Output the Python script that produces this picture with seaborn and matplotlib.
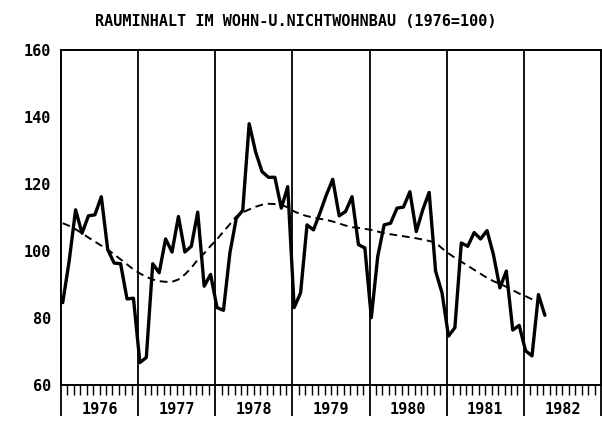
import numpy as np
import pandas as pd
import matplotlib
matplotlib.use('Agg')
import matplotlib.pyplot as plt
import seaborn as sns

# monthly index values (1976=100)
y1976 = [84.6, 97.0, 112.3, 105.3, 110.5, 110.8, 116.2, 100.4, 96.4, 96.2, 85.7, 85.9]
y1977 = [66.7, 68.2, 96.2, 93.5, 103.6, 99.7, 110.3, 99.7, 101.4, 111.6, 89.5, 93.0]
y1978 = [83.1, 82.3, 99.4, 109.8, 112.1, 138.0, 129.6, 123.7, 122.0, 122.0, 112.8, 119.2]
y1979 = [83.1, 87.5, 107.8, 106.3, 111.3, 116.7, 121.4, 110.5, 111.8, 116.2, 101.9, 100.9]
y1980 = [80.1, 98.4, 107.8, 108.3, 112.8, 113.1, 117.7, 105.8, 112.3, 117.5, 94.0, 87.5]
y1981 = [74.6, 77.1, 102.4, 101.4, 105.5, 103.6, 106.1, 98.9, 89.0, 94.0, 76.4, 77.8]
y1982 = [70.2, 68.7, 87.0, 80.8]

# smoothed trend (dashed), Jan 1976 - Mar 1982
trend = [108.3, 107.5, 106.5, 105.3, 104.0, 102.8, 101.6, 100.4, 99.0, 97.5, 96.0, 94.5,
         93.3, 92.3, 91.5, 91.0, 90.8, 90.8, 91.5, 93.0, 95.0, 97.4, 99.3, 101.5,
         103.5, 105.8, 108.0, 110.3, 111.5, 112.4, 113.2, 113.8, 114.1, 114.0, 113.8, 113.0,
         111.8, 111.0, 110.4, 110.0, 109.6, 109.3, 108.8, 108.2, 107.6, 107.1, 106.9, 106.6,
         106.3, 105.8, 105.3, 105.0, 104.7, 104.4, 104.1, 103.8, 103.4, 103.0, 102.5, 100.8,
         99.3, 98.0, 96.8, 95.6, 94.4, 93.2, 92.0, 91.0, 90.2, 89.3, 88.3, 87.3,
         86.5, 85.6, 84.9]

years = [1976, 1977, 1978, 1979, 1980, 1981, 1982]
title = 'RAUMINHALT IM WOHN-U.NICHTWOHNBAU (1976=100)'

werte = y1976 + y1977 + y1978 + y1979 + y1980 + y1981 + y1982
df = pd.DataFrame({'t': 1976 + (np.arange(len(werte)) + 0.27) / 12, 'wert': werte})
df_tr = pd.DataFrame({'t': 1976 + (np.arange(len(trend)) + 0.27) / 12, 'trend': trend})

sns.set_style("ticks")
plt.rcParams['font.family'] = ['DejaVu Sans Mono']
plt.rcParams['text.color'] = 'black'
plt.rcParams['xtick.color'] = 'black'
plt.rcParams['ytick.color'] = 'black'
plt.rcParams['xtick.labelcolor'] = 'black'
plt.rcParams['ytick.labelcolor'] = 'black'

fig = plt.figure(figsize=(6.02, 4.23), dpi=100)
ax = fig.add_axes([61 / 602, 1 - 385 / 423, 540 / 602, 335 / 423])

sns.lineplot(data=df, x='t', y='wert', color='black', lw=2.4, ax=ax)
sns.lineplot(data=df_tr, x='t', y='trend', color='black', lw=1.4,
             linestyle=(0, (4, 2.5)), ax=ax)

for yr in years[1:]:
    ax.axvline(yr, color='black', lw=1.3)

ax.set_xlim(1976, 1983)
ax.set_ylim(60, 160)
ax.set_xticks(years + [1983])
ax.set_xticklabels([])
ax.set_xticks(1976 + np.arange(1, 84) / 12, minor=True)
ax.tick_params(axis='x', which='major', direction='out', length=22, width=1.3, color='black')
ax.tick_params(axis='x', which='minor', direction='out', length=7, width=1.0, color='black')
ax.set_yticks(range(60, 161, 20))
ax.tick_params(axis='y', length=0, pad=7, labelsize=11, labelcolor='black')
for lab in ax.get_yticklabels():
    lab.set_fontweight('bold')

for yr in years:
    ax.text(yr + 0.5, -0.072, str(yr), transform=ax.get_xaxis_transform(),
            ha='center', va='center', fontsize=11, fontweight='bold', color='black')

for s in ax.spines.values():
    s.set_visible(True)
    s.set_linewidth(1.4)
    s.set_color('black')

ax.set_xlabel('')
ax.set_ylabel('')
fig.text(0.492, 1 - 21.5 / 423, title, ha='center', va='center', fontsize=10.9,
         fontweight='bold', color='black')

plt.savefig('out.png', dpi=100)
